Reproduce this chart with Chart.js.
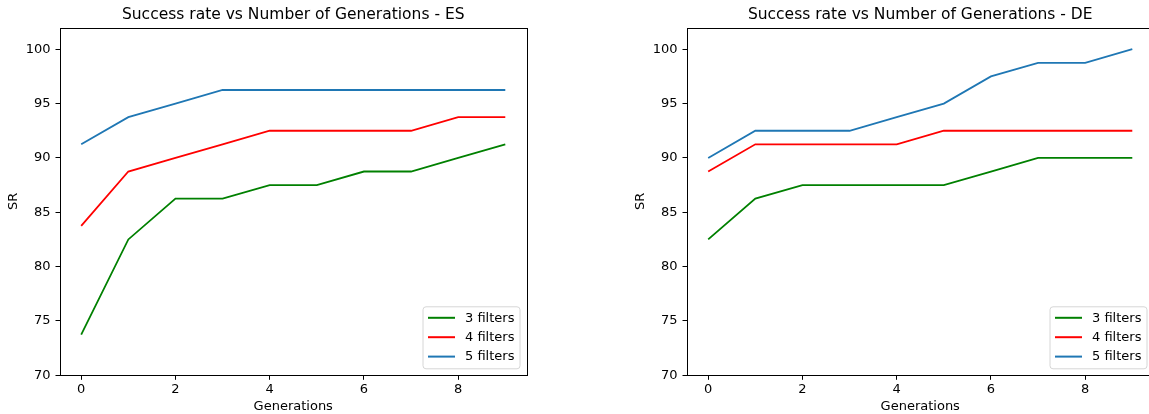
<!DOCTYPE html>
<html>
<head>
<meta charset="utf-8">
<script src="https://cdn.jsdelivr.net/npm/chart.js@4.4.1/dist/chart.umd.min.js"></script>
<style>
  html, body { margin:0; padding:0; background:#fff; overflow:hidden; }
  #wrap { position:relative; width:1149px; height:414px; overflow:hidden; background:#fff; }
  canvas { position:absolute; top:0; }
</style>
</head>
<body>
<div id="wrap">
  <canvas id="c1" width="575" height="414" style="left:0px"></canvas>
  <canvas id="c2" width="575" height="414" style="left:627px"></canvas>
</div>
<script>
const generations = [0, 1, 2, 3, 4, 5, 6, 7, 8, 9];
const seriesLabels = ['3 filters', '4 filters', '5 filters'];
const seriesColors = ['#008000', '#ff0000', '#1f77b4'];

const es3 = [73.75, 82.5, 86.25, 86.25, 87.5, 87.5, 88.75, 88.75, 90.0, 91.25];
const es4 = [83.75, 88.75, 90.0, 91.25, 92.5, 92.5, 92.5, 92.5, 93.75, 93.75];
const es5 = [91.25, 93.75, 95.0, 96.25, 96.25, 96.25, 96.25, 96.25, 96.25, 96.25];

const de3 = [82.5, 86.25, 87.5, 87.5, 87.5, 87.5, 88.75, 90.0, 90.0, 90.0];
const de4 = [88.75, 91.25, 91.25, 91.25, 91.25, 92.5, 92.5, 92.5, 92.5, 92.5];
const de5 = [90.0, 92.5, 92.5, 92.5, 93.75, 95.0, 97.5, 98.75, 98.75, 100.0];

const xTicks = [0, 2, 4, 6, 8];
const yTicks = [70, 75, 80, 85, 90, 95, 100];
const titles = ['Success rate vs Number of Generations - ES', 'Success rate vs Number of Generations - DE'];

const FONT = 'DejaVu Sans';

const framePlugin = {
  id: 'frame',
  afterDraw(chart) {
    const a = chart.chartArea, ctx = chart.ctx;
    ctx.save();
    ctx.strokeStyle = '#000';
    ctx.lineWidth = 1;
    ctx.strokeRect(Math.round(a.left) + 0.5, Math.round(a.top) + 0.5,
                   Math.round(a.right) - Math.round(a.left), Math.round(a.bottom) - Math.round(a.top));
    // title
    ctx.fillStyle = '#000';
    ctx.font = '15.5px "' + FONT + '"';
    ctx.textAlign = 'center';
    ctx.textBaseline = 'middle';
    ctx.fillText(chart.options.plugins.frame.title, (a.left + a.right) / 2, 15);
    // legend
    const fs = 13;
    const boxW = 97, boxH = 62;
    const bx = a.right - 6.5 - boxW, by = a.bottom - 6.5 - boxH;
    ctx.beginPath();
    const r = 3;
    ctx.moveTo(bx + r, by);
    ctx.lineTo(bx + boxW - r, by);
    ctx.quadraticCurveTo(bx + boxW, by, bx + boxW, by + r);
    ctx.lineTo(bx + boxW, by + boxH - r);
    ctx.quadraticCurveTo(bx + boxW, by + boxH, bx + boxW - r, by + boxH);
    ctx.lineTo(bx + r, by + boxH);
    ctx.quadraticCurveTo(bx, by + boxH, bx, by + boxH - r);
    ctx.lineTo(bx, by + r);
    ctx.quadraticCurveTo(bx, by, bx + r, by);
    ctx.closePath();
    ctx.fillStyle = 'rgba(255,255,255,0.8)';
    ctx.fill();
    ctx.strokeStyle = '#d6d6d6';
    ctx.lineWidth = 1;
    ctx.stroke();
    ctx.font = fs + 'px "' + FONT + '"';
    ctx.textAlign = 'left';
    ctx.textBaseline = 'middle';
    chart.data.datasets.forEach((ds, i) => {
      const cy = by + 11 + i * 19.4;
      ctx.strokeStyle = ds.borderColor;
      ctx.lineWidth = 2;
      ctx.beginPath();
      ctx.moveTo(bx + 5, cy);
      ctx.lineTo(bx + 32, cy);
      ctx.stroke();
      ctx.fillStyle = '#000';
      ctx.fillText(ds.label, bx + 42, cy + 0.5);
    });
    ctx.restore();
  }
};

function makeChart(id, seriesList, title) {
  const datasets = seriesList.map((vals, i) => ({
    label: seriesLabels[i],
    data: generations.map((g, k) => ({x: g, y: vals[k]})),
    borderColor: seriesColors[i],
    backgroundColor: seriesColors[i],
    borderWidth: 1.8,
    pointRadius: 0,
    tension: 0,
    fill: false
  }));
  return new Chart(document.getElementById(id), {
    type: 'line',
    data: { datasets },
    plugins: [framePlugin],
    options: {
      responsive: false,
      animation: false,
      layout: { padding: { top: 27.5, right: 48.5, left: 0, bottom: 0 } },
      plugins: {
        legend: { display: false },
        tooltip: { enabled: false },
        frame: { title }
      },
      scales: {
        x: {
          type: 'linear',
          min: -0.45, max: 9.45,
          afterBuildTicks: s => { s.ticks = xTicks.map(v => ({value: v})); },
          afterFit: s => { s.height = 38.7; },
          grid: { drawOnChartArea: false, drawTicks: true, tickLength: 4.5, tickColor: '#000', tickWidth: 1 },
          border: { display: false },
          ticks: { color: '#000', font: { family: FONT, size: 13 }, padding: 2, maxRotation: 0, autoSkip: false },
          title: { display: true, text: 'Generations', color: '#000', font: { family: FONT, size: 13 }, padding: { top: 0, bottom: 0 } }
        },
        y: {
          type: 'linear',
          min: 70, max: 102,
          afterBuildTicks: s => { s.ticks = yTicks.map(v => ({value: v})); },
          afterFit: s => { s.width = 60; },
          grid: { drawOnChartArea: false, drawTicks: true, tickLength: 4.5, tickColor: '#000', tickWidth: 1 },
          border: { display: false },
          ticks: { color: '#000', font: { family: FONT, size: 13 }, padding: 5, autoSkip: false },
          title: { display: true, text: 'SR', color: '#000', font: { family: FONT, size: 13 }, padding: { top: 6, bottom: 0 } }
        }
      }
    }
  });
}

makeChart('c1', [es3, es4, es5], titles[0]);
makeChart('c2', [de3, de4, de5], titles[1]);
</script>
</body>
</html>
